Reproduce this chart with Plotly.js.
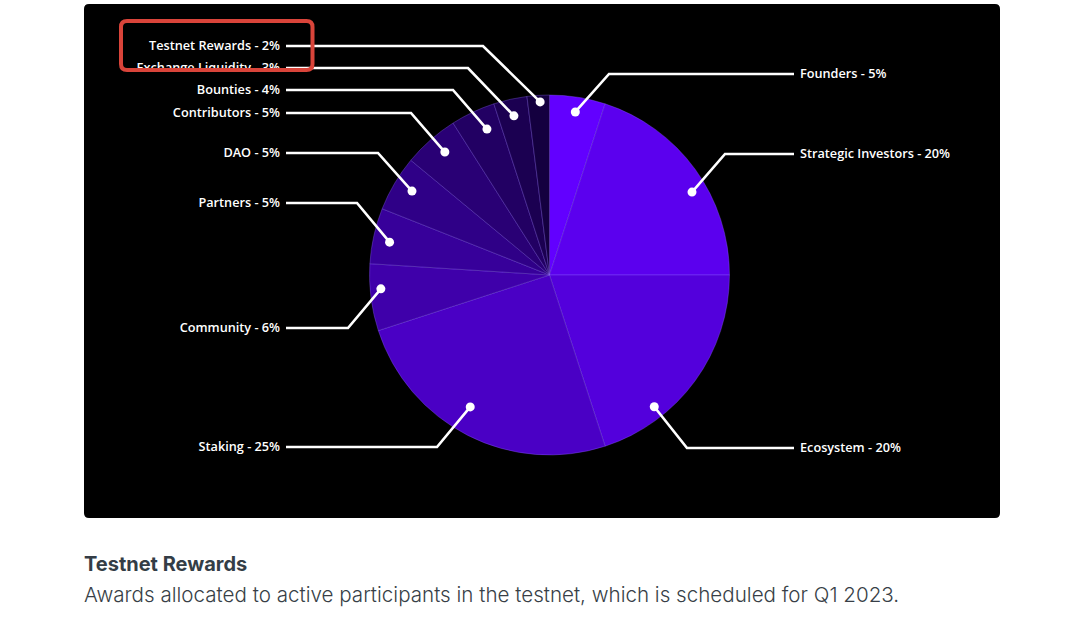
<!DOCTYPE html>
<html>
<head>
<meta charset="utf-8">
<script src="https://cdn.plot.ly/plotly-3.0.1.min.js"></script>
<style>
  html, body { margin: 0; padding: 0; background: #ffffff; }
  #chart { width: 1069px; height: 623px; }
</style>
</head>
<body>
<div id="chart"></div>
<script>
// ---- data ----
const categories = ['Founders', 'Strategic Investors', 'Ecosystem', 'Staking', 'Community',
                    'Partners', 'DAO', 'Contributors', 'Bounties', 'Exchange Liquidity', 'Testnet Rewards'];
const shares = [5, 20, 20, 25, 6, 5, 5, 5, 4, 3, 2];
const sliceColors = ['#6200ff', '#5b00ee', '#5300dc', '#4a00c5', '#3f00aa', '#37009a',
                     '#2f0087', '#290075', '#220063', '#1b0051', '#14003f'];
const captionTitle = 'Testnet Rewards';
const captionText = 'Awards allocated to active participants in the testnet, which is scheduled for Q1 2023.';

// ---- layout of the leader labels (pixels) ----
const W = 1069, H = 623;
const CX = 549.5, CY = 275, R = 180;
const leaderLayout = [
  {side: 'right', y: 74,  elbowX: 609, shift: 0,    rf: 0.917},
  {side: 'right', y: 154, elbowX: 725, shift: 5.8,  rf: 0.916},
  {side: 'right', y: 448, elbowX: 687, shift: 15.5, rf: 0.935},
  {side: 'left',  y: 447, elbowX: 437, shift: 4,    rf: 0.855},
  {side: 'left',  y: 328, elbowX: 348, shift: 2.5,  rf: 0.94},
  {side: 'left',  y: 203, elbowX: 357, shift: -1,   rf: 0.907},
  {side: 'left',  y: 153, elbowX: 378, shift: 0.8,  rf: 0.895},
  {side: 'left',  y: 113, elbowX: 411, shift: 1,    rf: 0.897},
  {side: 'left',  y: 90,  elbowX: 453, shift: 2,    rf: 0.882},
  {side: 'left',  y: 68,  elbowX: 468, shift: 0,    rf: 0.906},
  {side: 'left',  y: 46,  elbowX: 483, shift: 0.5,  rf: 0.963}
];

function roundRect(x0, y0, x1, y1, r) {
  return `M ${x0 + r} ${y0} L ${x1 - r} ${y0} Q ${x1} ${y0} ${x1} ${y0 + r} ` +
         `L ${x1} ${y1 - r} Q ${x1} ${y1} ${x1 - r} ${y1} L ${x0 + r} ${y1} ` +
         `Q ${x0} ${y1} ${x0} ${y1 - r} L ${x0} ${y0 + r} Q ${x0} ${y0} ${x0 + r} ${y0} Z`;
}

const total = shares.reduce((a, b) => a + b, 0);
const shapes = [];

// black card
shapes.push({type: 'path', xref: 'x', yref: 'y', layer: 'below',
  path: roundRect(84, 4, 1000, 518, 5), fillcolor: '#000000', line: {width: 0}});

const lx = [], ly = [], lt = [], lpos = [];
let cum = 0;
shares.forEach((v, i) => {
  const cfg = leaderLayout[i];
  const mid = (cum + v / 2) / total * 360 + cfg.shift;
  cum += v;
  const a = mid * Math.PI / 180;
  const dx = CX + R * cfg.rf * Math.sin(a);
  const dy = CY - R * cfg.rf * Math.cos(a);
  const endX = cfg.side === 'left' ? 286 : 794;
  shapes.push({type: 'path', xref: 'x', yref: 'y', layer: 'above',
    path: `M ${dx} ${dy} L ${cfg.elbowX} ${cfg.y} L ${endX} ${cfg.y}`,
    line: {color: '#ffffff', width: 2.6}});
  shapes.push({type: 'circle', xref: 'x', yref: 'y', layer: 'above',
    x0: dx - 4.5, x1: dx + 4.5, y0: dy - 4.5, y1: dy + 4.5,
    fillcolor: '#ffffff', line: {width: 0}});
  lx.push(cfg.side === 'left' ? 280 : 800);
  ly.push(cfg.y + 1);
  lt.push(categories[i] + ' - ' + v + '%');
  lpos.push(cfg.side === 'left' ? 'middle left' : 'middle right');
});

// occluder under the highlight box and the highlight box itself
shapes.push({type: 'rect', xref: 'x', yref: 'y', layer: 'above',
  x0: 100, x1: 300, y0: 70, y1: 79, fillcolor: '#000000', line: {width: 0}});
shapes.push({type: 'path', xref: 'x', yref: 'y', layer: 'above',
  path: roundRect(121, 21, 312.5, 70, 6), fillcolor: 'rgba(0,0,0,0)',
  line: {color: '#d9443a', width: 4}});

const pie = {
  type: 'pie',
  labels: categories,
  values: shares,
  sort: false,
  direction: 'clockwise',
  rotation: 0,
  textinfo: 'none',
  hoverinfo: 'label+percent',
  marker: {colors: sliceColors, line: {color: 'rgba(150,110,255,0.45)', width: 0.7}},
  domain: {x: [(CX - R) / W, (CX + R) / W], y: [1 - (CY + R) / H, 1 - (CY - R) / H]},
  showlegend: false
};

const labelTrace = {
  type: 'scatter',
  mode: 'text',
  x: lx, y: ly, text: lt,
  textposition: lpos,
  textfont: {family: 'Open Sans', size: 12.7, color: '#ffffff', weight: 600},
  hoverinfo: 'skip',
  cliponaxis: false,
  showlegend: false
};

const layout = {
  width: W, height: H,
  margin: {l: 0, r: 0, t: 0, b: 0},
  paper_bgcolor: '#ffffff',
  plot_bgcolor: 'rgba(0,0,0,0)',
  xaxis: {range: [0, W], visible: false, fixedrange: true},
  yaxis: {range: [H, 0], visible: false, fixedrange: true},
  shapes: shapes,
  annotations: [
    {xref: 'x', yref: 'y', x: 82, y: 564, xanchor: 'left', yanchor: 'middle', showarrow: false,
     text: captionTitle,
     font: {family: 'Inter', size: 20, color: '#343d46', weight: 700}},
    {xref: 'x', yref: 'y', x: 82, y: 594, xanchor: 'left', yanchor: 'middle', showarrow: false,
     text: captionText,
     font: {family: 'Inter', size: 20.6, color: '#383f47', weight: 300}}
  ]
};

Plotly.newPlot('chart', [labelTrace, pie], layout, {displayModeBar: false, staticPlot: true});
</script>
</body>
</html>
